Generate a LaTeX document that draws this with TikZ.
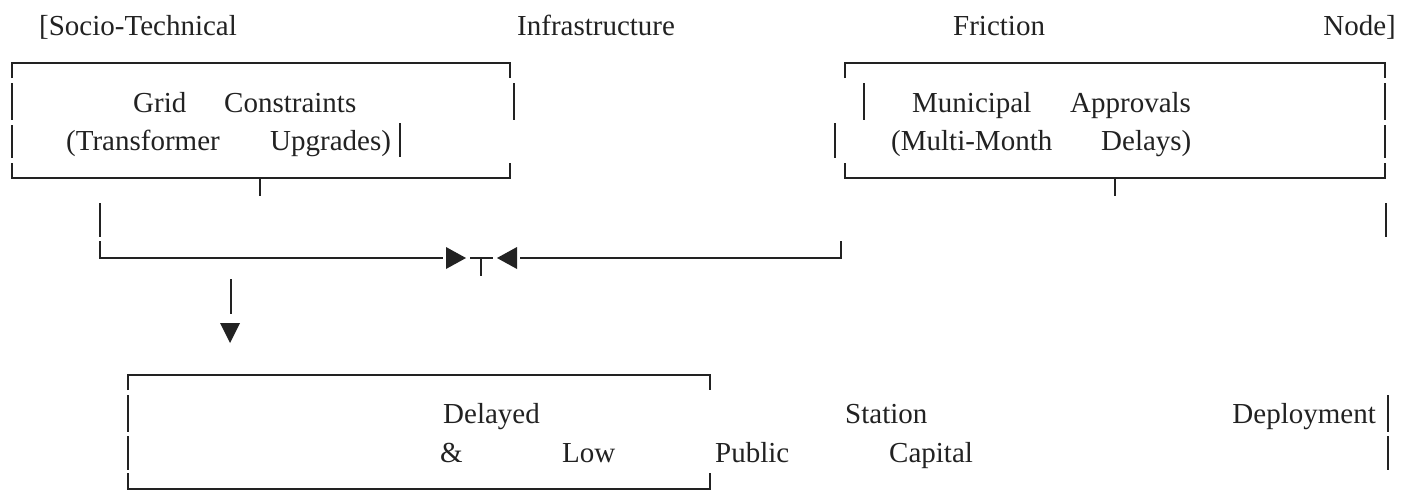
\documentclass[tikz,border=0pt]{standalone}
\usepackage{fontspec}
\setmainfont{Liberation Serif}
\definecolor{ink}{HTML}{222222}
\begin{document}
\begin{tikzpicture}[x=1pt,y=-1pt,
  lbl/.style={inner sep=0pt,anchor=base west,text=ink,font=\fontsize{29}{34}\selectfont},
  lbr/.style={lbl,anchor=base east},
  ln/.style={draw=ink,line width=2.4pt},
  tip/.style={fill=ink,draw=none}]
\useasboundingbox[fill=white] (0,0) rectangle (1411,490);
% title
\node[lbl] (t1) at (39,35) {[Socio-Technical};
\node[lbl] (t2) at (517,35) {Infrastructure};
\node[lbl] (t3) at (953,35) {Friction};
\node[lbr] (t4) at (1396,35) {Node]};
% box 1
\node[lbl] (g1) at (133,112) {Grid};
\node[lbl] (g2) at (224,112) {Constraints};
\node[lbl] (g3) at (66,150) {(Transformer};
\node[lbl] (g4) at (270,150) {Upgrades)};
\draw[ln] (12,78)--(12,63)--(510,63)--(510,78);
\draw[ln] (12,83)--(12,120) (12,125)--(12,158);
\draw[ln] (12,163)--(12,178)--(510,178)--(510,163);
\draw[ln] (514,83)--(514,120);
\draw[ln] (400,123)--(400,157);
\draw[ln] (260,178)--(260,196);
% box 2
\node[lbl] (m1) at (912,112) {Municipal};
\node[lbl] (m2) at (1070,112) {Approvals};
\node[lbl] (m3) at (891,150) {(Multi-Month};
\node[lbl] (m4) at (1101,150) {Delays)};
\draw[ln] (845,78)--(845,63)--(1385,63)--(1385,78);
\draw[ln] (864,83)--(864,120) (1385,83)--(1385,120);
\draw[ln] (835,123)--(835,158) (1385,125)--(1385,158);
\draw[ln] (845,163)--(845,178)--(1385,178)--(1385,163);
\draw[ln] (1115,178)--(1115,196);
\draw[ln] (1386,203)--(1386,237);
% merge connector
\coordinate (jl) at (100,258);
\coordinate (jr) at (841,258);
\draw[ln] (100,203)--(100,237);
\draw[ln] (100,241)--(jl)--(443,258);
\fill[tip] (446,247)--(466,258)--(446,269)--cycle;
\draw[ln] (470,258)--(493,258) (481,258)--(481,276);
\fill[tip] (517,247)--(497,258)--(517,269)--cycle;
\draw[ln] (520,258)--(jr)--(841,241);
% down arrow
\draw[ln] (231,279)--(231,314);
\fill[tip] (220,323)--(240,323)--(230,343)--cycle;
% box 3
\node[lbl] (d1) at (443,423) {Delayed};
\node[lbl] (d2) at (845,423) {Station};
\node[lbr] (d3) at (1376,423) {Deployment};
\node[lbl] (d4) at (440,462) {\&};
\node[lbl] (d5) at (562,462) {Low};
\node[lbl] (d6) at (715,462) {Public};
\node[lbl] (d7) at (889,462) {Capital};
\draw[ln] (128,390)--(128,375)--(710,375)--(710,390);
\draw[ln] (128,395)--(128,432) (128,436)--(128,470);
\draw[ln] (1388,395)--(1388,432) (1388,436)--(1388,470);
\draw[ln] (128,473)--(128,489)--(710,489)--(710,473);
\end{tikzpicture}
\end{document}
